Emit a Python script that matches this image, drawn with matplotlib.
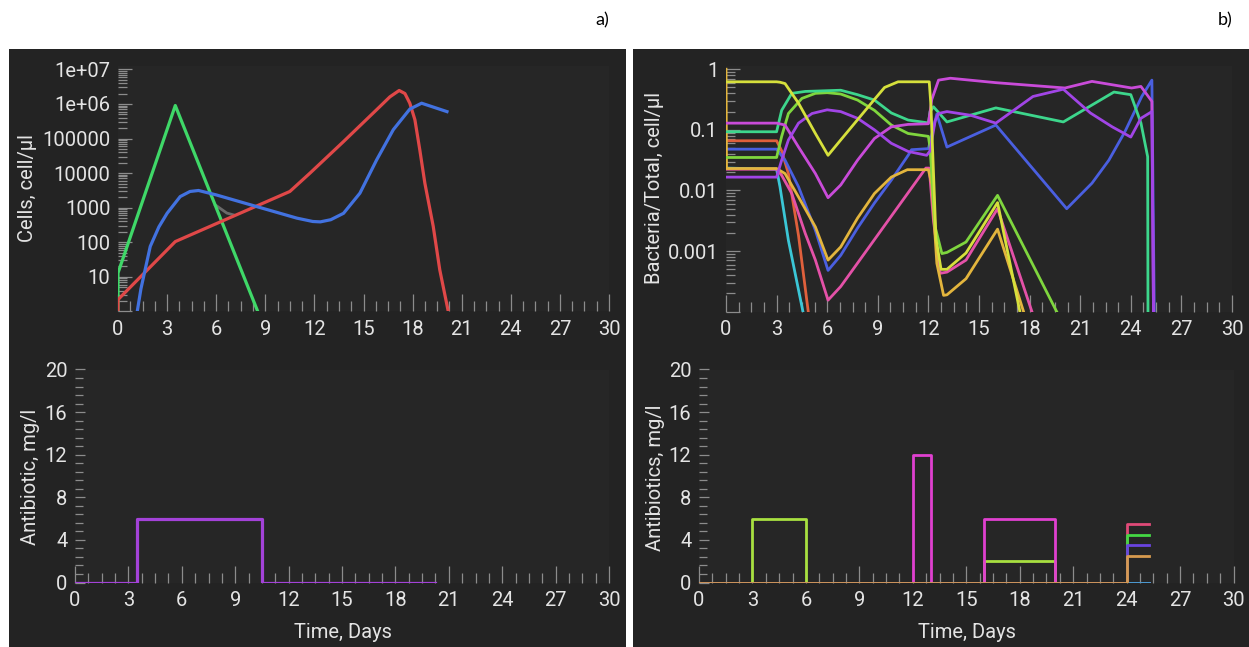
import matplotlib
matplotlib.use("Agg")
import matplotlib.pyplot as plt
from matplotlib.patches import Rectangle
from matplotlib.ticker import MultipleLocator, LogLocator, NullFormatter

W, H = 1249, 647
plt.rcParams['font.family'] = ['Roboto', 'DejaVu Sans']

PANEL_BG = '#232323'
PLOT_BG = '#262626'
TICK = '#8c8c8c'
TXT = '#e4e4e4'
FS = 14.5

# ---------------- data: a) one strain ----------------
days = list(range(0, 31, 3))

cell_ticks = [1, 10, 100, 1000, 1e4, 1e5, 1e6, 1e7]
cell_tick_labels = ['', '10', '100', '1000', '10000', '100000', '1e+06', '1e+07']

green_t = [0, 0, 3.5, 8.6]
green_c = [1, 13, 9e5, 0.85]

red_t = [0, 0, 3.5, 10.5, 11.73, 13.77, 15.8, 16.61, 17.18, 17.53, 17.83, 18.14,
         18.44, 18.75, 19.26, 19.66, 20.2]
red_c = [1, 2.2, 105, 2950, 1.0e4, 8.1e4, 6.8e5, 1.6e6, 2.45e6, 2.0e6, 1.05e6, 3.5e5,
         4.7e4, 5.1e3, 290, 16, 0.9]

blue_t = [1.16, 1.4, 1.97, 2.5, 3.0, 3.8, 4.4, 4.92, 6.0, 8.5, 10.93, 11.9, 12.36,
          13.0, 13.78, 14.78, 15.8, 16.82, 17.83, 18.55, 20.1]
blue_c = [0.9, 4.5, 76, 280, 690, 2100, 2950, 3150, 2350, 1070, 500, 400, 390,
          450, 690, 2630, 2.4e4, 1.8e5, 7.1e5, 1.05e6, 6.0e5]

grey_t = [5.95, 6.65, 7.06]
grey_c = [1200, 700, 620]

dose_t = [0, 3.5, 10.5, 20.2]
dose_c = [0, 6, 0, 0]

# ---------------- data: b) mixed strains ----------------
frac_ticks = [1e-4, 1e-3, 1e-2, 0.1, 1]
frac_tick_labels = ['', '0.001', '0.01', '0.1', '1']
conc_ticks = [0, 4, 8, 12, 16, 20]

redorange_t = [0, 3.0, 3.3, 3.7, 4.3, 4.9]
redorange_f = [0.066, 0.066, 0.045, 0.019, 0.0018, 8.9e-5]

cyan_t = [0, 3.0, 3.2, 3.7, 4.6]
cyan_f = [0.0234, 0.0224, 0.0115, 0.0015, 8.9e-5]

yellow_t = [0, 3.0, 3.2, 3.5, 4.3, 5.3, 6.05, 6.8, 8.77, 9.4, 10.2, 12.05, 12.15,
            12.45, 12.75, 13.1, 14.23, 16.1, 17.5]
yellow_f = [0.62, 0.62, 0.61, 0.58, 0.275, 0.087, 0.038, 0.068, 0.31, 0.50, 0.62, 0.62, 0.25,
            0.0016, 5.0e-4, 5.0e-4, 9.3e-4, 6.3e-3, 7.9e-5]

teal_t = [0, 3.0, 3.3, 3.9, 4.7, 6.8, 7.8, 8.8, 9.8, 10.8, 12.0, 12.1, 12.3, 13.1,
          16.0, 20.0, 23.0, 24.0, 24.6, 25.0, 25.02]
teal_f = [0.093, 0.093, 0.21, 0.40, 0.43, 0.45, 0.38, 0.31, 0.19, 0.145, 0.13, 0.20, 0.24, 0.135,
          0.23, 0.135, 0.42, 0.38, 0.13, 0.036, 6.3e-5]

lime_t = [0, 3.0, 3.3, 3.7, 4.5, 5.3, 6.0, 6.8, 7.8, 8.8, 9.8, 10.8, 12.0, 12.1, 12.4,
          12.8, 13.1, 14.23, 16.1, 19.7]
lime_f = [0.035, 0.035, 0.078, 0.186, 0.33, 0.40, 0.41, 0.39, 0.31, 0.21, 0.12, 0.087, 0.078,
          0.05, 0.0025, 9.1e-4, 9.5e-4, 1.41e-3, 8.3e-3, 8.9e-5]

violet_t = [0, 3.0, 3.3, 3.7, 4.3, 5.1, 6.0, 6.8, 7.8, 8.8, 9.8, 10.8, 11.9, 12.1, 12.4,
            12.6, 13.1, 14.5, 16.0, 18.2, 20.0, 21.6, 22.9, 24.0, 24.6, 25.25, 25.35]
violet_f = [0.0166, 0.0166, 0.0316, 0.068, 0.129, 0.186, 0.214, 0.2, 0.155, 0.1, 0.06, 0.044,
            0.038, 0.045, 0.141, 0.186, 0.2, 0.174, 0.129, 0.355, 0.468, 0.19, 0.112, 0.076,
            0.155, 0.2, 6.3e-5]

magenta_t = [0, 3.0, 3.5, 4.3, 5.3, 6.05, 6.8, 7.8, 8.8, 9.8, 10.8, 12.0, 12.2, 12.6,
             13.3, 16.0, 20.1, 21.7, 24.05, 24.6, 25.25, 25.35]
magenta_f = [0.129, 0.129, 0.12, 0.052, 0.019, 0.0076, 0.0123, 0.0316, 0.072, 0.112, 0.123,
             0.126, 0.316, 0.66, 0.71, 0.60, 0.49, 0.63, 0.49, 0.52, 0.295, 6.3e-5]

blue_b_t = [0, 3.0, 3.5, 4.3, 5.3, 6.05, 6.8, 7.8, 8.8, 9.8, 10.8, 11.0, 12.0, 12.5,
            13.1, 16.0, 20.2, 21.7, 22.7, 23.65, 24.65, 25.25, 25.4]
blue_b_f = [0.048, 0.048, 0.0316, 0.0115, 0.0022, 4.8e-4, 8.5e-4, 0.0024, 0.0062, 0.0148,
            0.038, 0.047, 0.049, 0.182, 0.052, 0.12, 0.005, 0.0132, 0.0316, 0.093, 0.355,
            0.66, 6.3e-5]

gold_t = [0, 0.03, 3.0, 3.5, 4.3, 5.3, 6.05, 6.8, 7.8, 8.8, 9.8, 10.75, 12.0, 12.2,
          12.5, 12.9, 13.1, 14.23, 16.1, 17.7]
gold_f = [1.0, 0.023, 0.023, 0.019, 0.0078, 0.0025, 7.1e-4, 0.00117, 0.0035, 0.0089, 0.0166,
          0.022, 0.022, 0.0126, 6.3e-4, 1.86e-4, 1.9e-4, 3.5e-4, 2.3e-3, 8.9e-5]

pink_t = [0, 3.0, 3.3, 3.9, 4.7, 5.3, 6.05, 6.8, 11.85, 12.05, 12.3, 12.7, 13.1, 14.23,
          16.1, 18.2]
pink_f = [0.0224, 0.0224, 0.0178, 0.0089, 0.00195, 7.1e-4, 1.55e-4, 2.6e-4, 0.0234, 0.0234,
          0.0032, 4.3e-4, 4.5e-4, 7.1e-4, 5.0e-3, 8.9e-5]

# antibiotic doses (step functions, value holds until next time point)
ab_lime_t = [0, 3, 6, 16, 20, 25.25]
ab_lime_c = [0, 6, 0, 2, 0, 0]
ab_mag_t = [0, 12, 13, 16, 20, 25.25]
ab_mag_c = [0, 12, 0, 6, 0, 0]
ab_cyan_t = [0, 24, 25.25]
ab_cyan_c = [0, 0, 0]
ab_red_t = [0, 24, 25.25]
ab_red_c = [0, 5.5, 5.5]
ab_green_t = [0, 24, 25.25]
ab_green_c = [0, 4.5, 4.5]
ab_violet_t = [0, 24, 25.25]
ab_violet_c = [0, 3.5, 3.5]
ab_orange_t = [0, 24, 25.25]
ab_orange_c = [0, 2.5, 2.5]

# ---------------- figure ----------------
fig = plt.figure(figsize=(W / 100, H / 100), dpi=100, facecolor='white')


def px_rect(l, t, r, b):
    return [l / W, 1 - b / H, (r - l) / W, (b - t) / H]


for l, r in [(9, 626), (633, 1249)]:
    fig.patches.append(Rectangle((l / W, 0), (r - l) / W, 1 - 49 / H,
                                 transform=fig.transFigure, facecolor=PANEL_BG,
                                 edgecolor='none', zorder=-10))


def style(ax, log=False):
    ax.set_zorder(2)
    ax.set_facecolor(PLOT_BG)
    for s in ax.spines.values():
        s.set_visible(False)
    ax.set_xlim(0, 30)
    ax.set_xticks(days)
    ax.xaxis.set_minor_locator(MultipleLocator(0.75))
    ax.tick_params(which='both', direction='in', color=TICK, labelcolor=TXT,
                   labelsize=FS, width=0.9)
    ax.tick_params(axis='x', which='major', length=12, pad=6)
    ax.tick_params(axis='x', which='minor', length=7.2)
    if log:
        ax.tick_params(axis='y', which='major', length=10, pad=5.5)
        ax.tick_params(axis='y', which='minor', length=6.5)
    else:
        ax.yaxis.set_minor_locator(MultipleLocator(0.8))
        ax.tick_params(axis='y', which='major', length=7.5, pad=5.5)
        ax.tick_params(axis='y', which='minor', length=5.5)


# a) cells
ax1 = fig.add_axes(px_rect(118, 66, 609, 311.5))
style(ax1, log=True)
ax1.set_yscale('log')
ax1.set_ylim(1, 1.25e7)
ax1.set_yticks(cell_ticks, cell_tick_labels)
ax1.yaxis.set_minor_locator(LogLocator(base=10, subs=range(2, 10), numticks=100))
ax1.yaxis.set_minor_formatter(NullFormatter())
ax1.plot(grey_t, grey_c, color='#6a6a6a', lw=2)
ax1.plot(green_t, green_c, color='#3fd868', lw=2.3)
ax1.plot(red_t, red_c, color='#e04848', lw=2.3)
ax1.plot(blue_t, blue_c, color='#4272e0', lw=2.3)

# a) antibiotic
ax2 = fig.add_axes(px_rect(75, 369.5, 609, 582.5))
style(ax2)
ax2.set_ylim(0, 20)
ax2.set_yticks(conc_ticks)
ax2.plot(dose_t, dose_c, drawstyle='steps-post', color='#a342d8', lw=2.3)

# b) bacteria fractions
ax3 = fig.add_axes(px_rect(726, 66, 1232, 311.7))
style(ax3, log=True)
ax3.set_yscale('log')
ax3.set_ylim(1e-4, 1.13)
ax3.set_yticks(frac_ticks, frac_tick_labels)
ax3.yaxis.set_minor_locator(LogLocator(base=10, subs=range(2, 10), numticks=100))
ax3.yaxis.set_minor_formatter(NullFormatter())
series_b = [
    (cyan_t, cyan_f, '#3bc6d6'),
    (redorange_t, redorange_f, '#e0603c'),
    (pink_t, pink_f, '#e451a8'),
    (blue_b_t, blue_b_f, '#4a5fe0'),
    (gold_t, gold_f, '#e3b53d'),
    (lime_t, lime_f, '#7fd63e'),
    (teal_t, teal_f, '#3dd68c'),
    (magenta_t, magenta_f, '#c94bd9'),
    (violet_t, violet_f, '#a145e6'),
    (yellow_t, yellow_f, '#d6e03c'),
]
for t, f, c in series_b:
    ax3.plot(t, f, color=c, lw=2)

# b) antibiotics
ax4 = fig.add_axes(px_rect(699, 369.5, 1233.5, 582.5))
style(ax4)
ax4.set_ylim(0, 20)
ax4.set_yticks(conc_ticks)
doses_b = [
    (ab_lime_t, ab_lime_c, '#a8e040'),
    (ab_mag_t, ab_mag_c, '#e040d0'),
    (ab_cyan_t, ab_cyan_c, '#3aa0d0'),
    (ab_red_t, ab_red_c, '#e04a78'),
    (ab_green_t, ab_green_c, '#44d844'),
    (ab_violet_t, ab_violet_c, '#6a44e0'),
    (ab_orange_t, ab_orange_c, '#d79a4e'),
]
for t, c_, col in doses_b:
    ax4.plot(t, c_, drawstyle='steps-post', color=col, lw=2)


# axis titles placed in pixel coordinates
def ftext(x, y, s, **kw):
    fig.text(x / W, 1 - y / H, s, ha='center', va='center', color=TXT, fontsize=FS, **kw)


ftext(28, 188, 'Cells, cell/µl', rotation=90)
ftext(30, 477, 'Antibiotic, mg/l', rotation=90)
ftext(654, 188, 'Bacteria/Total, cell/µl', rotation=90)
ftext(655, 478, 'Antibiotics, mg/l', rotation=90)
ftext(343, 632, 'Time, Days')
ftext(967, 632, 'Time, Days')

fig.text(602 / W, 1 - 20 / H, 'a)', ha='center', va='center', fontsize=13,
         family=['Lato', 'DejaVu Sans'], color='black')
fig.text(1225 / W, 1 - 20 / H, 'b)', ha='center', va='center', fontsize=13,
         family=['Lato', 'DejaVu Sans'], color='black')

fig.savefig('out.png', dpi=100, facecolor='white')
